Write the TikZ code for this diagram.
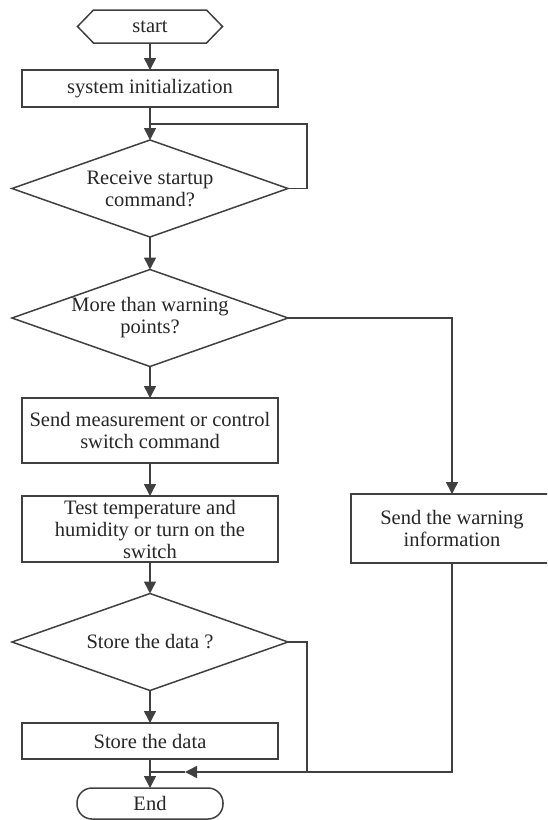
\documentclass[tikz,border=0pt]{standalone}
\usepackage{fontspec}
\setmainfont{Liberation Serif}
\usetikzlibrary{arrows.meta,shapes.geometric}
\begin{document}
\begin{tikzpicture}[x=1pt,y=-1pt,
  every node/.style={font=\fontsize{20.5}{22}\selectfont, text=black!85, inner sep=0pt, outer sep=0pt, align=center},
  box/.style={draw=black!75, line width=1.5pt, rectangle},
  decide/.style={draw=black!75, line width=1.5pt, diamond, shape aspect=2.85, inner sep=-10pt, minimum width=276pt, minimum height=97pt},
  conn/.style={draw=black!75, line width=1.5pt},
  arr/.style={conn, -{Triangle[width=12pt,length=12pt]}},
]
\useasboundingbox (0,0) rectangle (547,820);
\clip (0,0) rectangle (547,820);

% start (hexagon)
\node[minimum width=145pt, minimum height=33pt] (start) at (150,26.5) {start};
\draw[conn] (start.west) -- ([xshift=16pt]start.north west) -- ([xshift=-16pt]start.north east)
  -- (start.east) -- ([xshift=-16pt]start.south east) -- ([xshift=16pt]start.south west) -- cycle;

\node[box, minimum width=256pt, minimum height=37pt] (init) at (150,88.5) {system initialization};
\node[decide] (d1) at (150,188.5) {Receive startup\\command?};
\node[decide] (d2) at (150,318) {More than warning\\points?};
\node[box, minimum width=256pt, minimum height=65pt] (m1) at (150,430.5) {Send measurement or control\\switch command};
\node[box, minimum width=256pt, minimum height=66pt] (m2) at (150,529) {Test temperature and\\humidity or turn on the\\switch};
\node[decide] (d3) at (150,642) {Store the data ?};
\node[box, minimum width=256pt, minimum height=36pt] (sd) at (150,741) {Store the data};
\node[draw=black!75, line width=1.5pt, rectangle, rounded corners=15pt, minimum width=146pt, minimum height=31pt] (end) at (150,803.5) {End};
\node[box, minimum width=202pt, minimum height=69pt] (warn) at (452,528.5) {Send the warning\\information};

% connectors
\draw[arr] (start) -- (init);
\draw[arr] (init) -- (d1);
\coordinate (lp) at (307,124);
\coordinate (j1) at (150,124);
\draw[conn] (d1.east) -| (lp) -- (j1);
\draw[arr] (d1) -- (d2);
\draw[arr] (d2.east) -| (warn.north);
\draw[arr] (d2) -- (m1);
\draw[arr] (m1) -- (m2);
\draw[arr] (m2) -- (d3);
\draw[arr] (d3) -- (sd);
\draw[arr] (sd) -- (end);
\coordinate (k) at (307,772);
\coordinate (j2) at (185,772);
\coordinate (j3) at (150,772);
\draw[conn] (d3.east) -| (k);
\draw[arr] (warn.south) |- (j2);
\draw[conn] (j2) -- (j3);
\end{tikzpicture}
\end{document}
